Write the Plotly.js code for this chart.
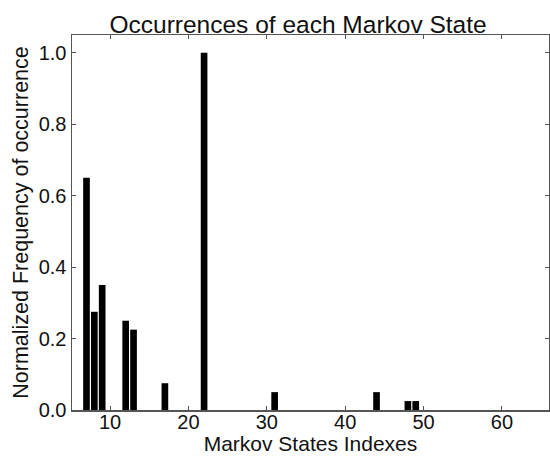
<!DOCTYPE html>
<html>
<head>
<meta charset="utf-8">
<script src="https://cdn.plot.ly/plotly-3.0.1.min.js"></script>
<style>html,body{margin:0;padding:0;background:#fff;}#chart{width:550px;height:458px;}</style>
</head>
<body>
<div id="chart"></div>
<script>
const stateIndexes = [7, 8, 9, 12, 13, 17, 22, 31, 44, 48, 49];
const normalizedFrequency = [0.65, 0.275, 0.35, 0.25, 0.225, 0.075, 1.0, 0.05, 0.05, 0.025, 0.025];
const xTickValues = [10, 20, 30, 40, 50, 60];
const yTickValues = [0.0, 0.2, 0.4, 0.6, 0.8, 1.0];
const yTickLabels = ["0.0", "0.2", "0.4", "0.6", "0.8", "1.0"];

const fontFamily = '"Liberation Sans", Arial, Helvetica, sans-serif';

const trace = {
  type: 'bar',
  x: stateIndexes,
  y: normalizedFrequency,
  width: 0.85,
  marker: {color: '#000000', line: {width: 0}},
  hoverinfo: 'x+y'
};

const axisCommon = {
  showgrid: false,
  zeroline: false,
  showline: true,
  linecolor: '#555555',
  linewidth: 1.5,
  mirror: 'ticks',
  ticks: 'inside',
  ticklen: 4,
  tickwidth: 1,
  tickcolor: '#555555',
  tickfont: {family: fontFamily, size: 20, color: '#111111'}
};

const layout = {
  width: 550,
  height: 458,
  paper_bgcolor: '#ffffff',
  plot_bgcolor: '#ffffff',
  margin: {l: 72, r: 1, t: 35, b: 48},
  showlegend: false,
  title: {
    text: 'Occurrences of each Markov State',
    font: {family: fontFamily, size: 24.5, color: '#111111'},
    x: 0.542, xanchor: 'center',
    y: 0.947, yanchor: 'middle'
  },
  xaxis: Object.assign({}, axisCommon, {
    range: [5.15, 66.0],
    tickvals: xTickValues,
    ticktext: xTickValues.map(String),
    ticklabelstandoff: -7,
    title: {text: 'Markov States Indexes', font: {family: fontFamily, size: 21, color: '#111111'}, standoff: 5}
  }),
  yaxis: Object.assign({}, axisCommon, {
    range: [0, 1.05],
    tickvals: yTickValues,
    ticktext: yTickLabels,
    title: {text: 'Normalized Frequency of occurrence', font: {family: fontFamily, size: 21.5, color: '#111111'}, standoff: 4}
  })
};

Plotly.newPlot('chart', [trace], layout, {displayModeBar: false, staticPlot: true});
</script>
</body>
</html>
